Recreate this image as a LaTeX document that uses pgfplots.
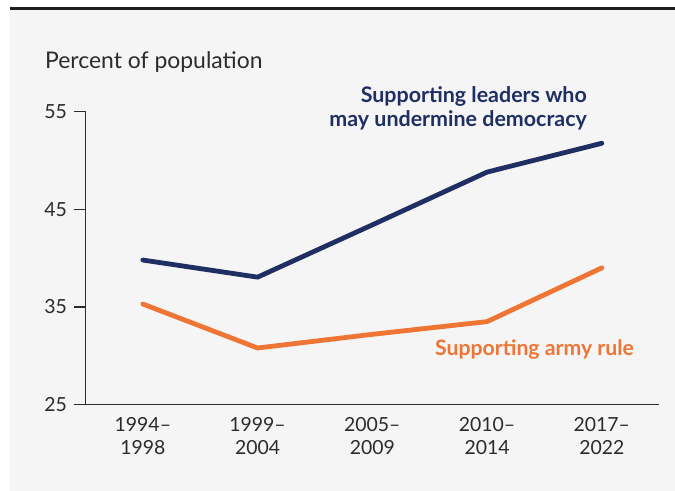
\documentclass[border=0pt]{standalone}
\usepackage{fontspec}
\setmainfont{Lato}
\usepackage{pgfplots}
\pgfplotsset{compat=1.18}
\definecolor{navy}{HTML}{1F2F63}
\definecolor{orng}{HTML}{EE7533}
\definecolor{bg}{HTML}{F5F5F5}
\definecolor{txt}{HTML}{2B2B2B}
\begin{document}
\begin{tikzpicture}[x=1bp,y=1bp]
\useasboundingbox (0,0) rectangle (675,491);
\fill[bg] (10,0) rectangle (675,483);
\fill[black!88] (10,481) rectangle (675,484);
\begin{axis}[
  at={(74.5,88.3)}, anchor=south west,
  scale only axis, width=573.7bp, height=293.2bp,
  xmin=-0.5, xmax=4.5, ymin=25, ymax=55,
  axis x line*=bottom, axis y line*=left,
  axis line style={txt, line width=1.1bp, -},
  ytick={25,35,45,55},
  xtick={0,1,2,3,4},
  xticklabels={1994--\\1998,1999--\\2004,2005--\\2009,2010--\\2014,2017--\\2022},
  xticklabel style={align=center, yshift=2bp},
  xtick style={draw=none},
  ytick style={txt, line width=1.1bp},
  yticklabel style={xshift=-4bp},
  tick align=outside, major tick length=11bp,
  ticklabel style={font=\fontsize{19.5}{23.5}\selectfont, text=txt},
  /pgf/number format/assume math mode=true,
  clip=false,
]
\addplot[navy, line width=4.8bp, line join=round, line cap=round] coordinates {(0,39.8) (1,38.05) (2,43.4) (3,48.8) (4,51.75)};
\addplot[orng, line width=4.8bp, line join=round, line cap=round] coordinates {(0,35.3) (1,30.8) (2,32.2) (3,33.5) (4,39.0)};
\end{axis}
\node[anchor=base west, inner sep=0, text=txt, font=\fontsize{23}{27}\selectfont] at (45,422.7) {Percent of population};
\node[anchor=base east, inner sep=0, text=navy, font=\bfseries\fontsize{21.5}{25}\selectfont] at (587,388.3) {Supporting leaders who};
\node[anchor=base east, inner sep=0, text=navy, font=\bfseries\fontsize{21.5}{25}\selectfont] at (587,364.3) {may undermine democracy};
\node[anchor=base west, inner sep=0, text=orng, font=\bfseries\fontsize{21.3}{25}\selectfont] at (435,135) {Supporting army rule};
\end{tikzpicture}
\end{document}
